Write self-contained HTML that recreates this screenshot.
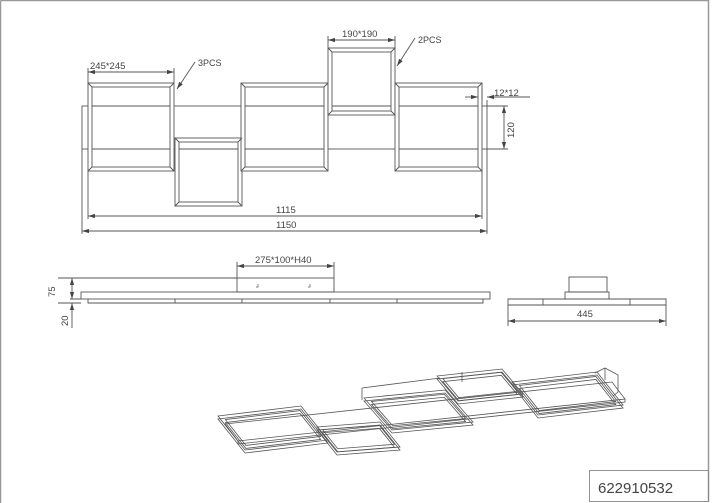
<!DOCTYPE html>
<html><head><meta charset="utf-8"><style>
html,body{margin:0;padding:0;background:#fff}
svg{display:block}
text{font-family:"Liberation Sans",sans-serif;fill:#444}
.f rect{vector-effect:non-scaling-stroke}
</style></head><body>
<svg width="720" height="503" viewBox="0 0 720 503" xmlns="http://www.w3.org/2000/svg">
<defs><marker id="a" viewBox="0 0 10 6" refX="10" refY="3" markerWidth="8" markerHeight="5" orient="auto-start-reverse"><path d="M0,0L10,3L0,6z" fill="#444"/></marker>
<g id="fr" class="f">
<rect x="0" y="0" width="1" height="1" fill="none" stroke="#555" stroke-width="0.8"/>
<rect x="0.05" y="0.12" width="0.9" height="0.76" fill="none" stroke="#555" stroke-width="0.8"/>
</g></defs>
<g fill="none" stroke="#555" stroke-width="0.9">
<path d="M0.5,0.5H708.5V501.5" stroke="#999" stroke-width="1.5"/>
<path d="M0.5,0.5V503" stroke="#999" stroke-width="1.5"/>
<rect x="589.5" y="470.5" width="119" height="31" stroke="#888"/>
<rect x="82" y="106" width="405" height="43" fill="#fff"/>
<g fill="#fff">
<rect x="88" y="83" width="86" height="88"/><rect x="92" y="87" width="78" height="80"/>
<rect x="175" y="138" width="67" height="68"/><rect x="179" y="142" width="59" height="60"/>
<rect x="241" y="83" width="87" height="88"/><rect x="245" y="87" width="79" height="80"/>
<rect x="328" y="48" width="67" height="67"/><rect x="332" y="52" width="59" height="59"/>
<rect x="395" y="83" width="87" height="88"/><rect x="399" y="87" width="79" height="80"/>
</g>
<path d="M88,83l4,4M174,83l-4,4M88,171l4,-4M174,171l-4,-4M175,138l4,4M242,138l-4,4M175,206l4,-4M242,206l-4,-4M241,83l4,4M328,83l-4,4M241,171l4,-4M328,171l-4,-4M328,48l4,4M395,48l-4,4M328,115l4,-4M395,115l-4,-4M395,83l4,4M482,83l-4,4M395,171l4,-4M482,171l-4,-4"/>
<path d="M92,106H170M92,149H170M245,106H324M245,149H324M332,106H391M399,106H478M399,149H478M179,149H238"/>
<path d="M88,72H174" marker-start="url(#a)" marker-end="url(#a)"/>
<path d="M88,68V83M174,68V83"/>
<path d="M195,62L177,89" marker-end="url(#a)"/>
<path d="M328,40H395" marker-start="url(#a)" marker-end="url(#a)"/>
<path d="M328,36V48M395,36V48"/>
<path d="M415,38L397,66" marker-end="url(#a)"/>
<path d="M465,97H478" marker-end="url(#a)"/><path d="M530,97H487" marker-end="url(#a)"/>
<path d="M482,88V100M487,100V106"/>
<path d="M504,106V149" marker-start="url(#a)" marker-end="url(#a)"/>
<path d="M487,106H508M487,149H508"/>
<path d="M88,216H482" marker-start="url(#a)" marker-end="url(#a)"/>
<path d="M82,231H487" marker-start="url(#a)" marker-end="url(#a)"/>
<path d="M88,171V219M482,171V219M82,149V234M487,149V234"/>
<rect x="237" y="278" width="97" height="14"/>
<rect x="81" y="292" width="409" height="7"/>
<path d="M88,299V303H483V299M175,299V303M242,299V303M330,299V303M397,299V303"/>
<path d="M237,266H334" marker-start="url(#a)" marker-end="url(#a)"/>
<path d="M237,262V278M334,262V278"/>
<path d="M258,284v3h-2M310,284v3h-2" stroke-width="0.7"/>
<path d="M58,278H237M58,303H81M70,299H81"/>
<path d="M72,278V299" marker-start="url(#a)" marker-end="url(#a)"/>
<path d="M72,310V303" marker-end="url(#a)"/><path d="M72,303V328"/>
<rect x="569" y="277" width="38" height="15"/>
<rect x="565" y="292" width="44" height="7"/>
<path d="M508,299H666V305H508ZM543,299V305M630,299V305"/>
<path d="M508,305V326M666,305V326"/>
<path d="M508,321H666" marker-start="url(#a)" marker-end="url(#a)"/>
<!-- iso -->
<g stroke-width="0.8">
<path d="M225,424L612,382L625,399L238,441Z"/>
<path d="M238,441L238,444L625,402L625,399"/>
<path d="M362,388L362,400M362,388L440,378"/>
<path d="M595,373L605,368L618,375L618,392L613,396"/>
<path d="M605,368L605,380"/>
<path d="M462,382L462,372"/>
</g>
</g>
<g>
<use href="#fr" transform="matrix(83,-10,27,34,218,416)"/>
<use href="#fr" transform="matrix(83,-10,27,34,218,419)"/>
<use href="#fr" transform="matrix(63,-5,20,25,317,427)"/>
<use href="#fr" transform="matrix(63,-5,20,25,317,430)"/>
<use href="#fr" transform="matrix(81,-8,28,32,364,398)"/>
<use href="#fr" transform="matrix(81,-8,28,32,364,401)"/>
<use href="#fr" transform="matrix(65,-7,21,25,437,376)"/>
<use href="#fr" transform="matrix(65,-7,21,25,437,379)"/>
<use href="#fr" transform="matrix(85,-10,26,33,512,382)"/>
<use href="#fr" transform="matrix(85,-10,26,33,512,385)"/>
</g>
<g font-size="10">
<text x="90" y="69" font-size="9.5">245*245</text>
<text x="198" y="66" font-size="9" font-family="Liberation Serif">3PCS</text>
<text x="342" y="37" font-size="9.5">190*190</text>
<text x="418" y="43" font-size="9" font-family="Liberation Serif">2PCS</text>
<text x="494" y="96" font-size="9.5">12*12</text>
<text transform="translate(514,138) rotate(-90)" font-size="9.5">120</text>
<text x="276" y="213" font-size="9.5">1115</text>
<text x="276" y="228" font-size="9.5">1150</text>
<text x="255" y="263" font-size="9.5">275*100*H40</text>
<text transform="translate(55,297) rotate(-90)" font-size="9.5">75</text>
<text transform="translate(68,326) rotate(-90)" font-size="9.5">20</text>
<text x="577" y="317" font-size="9.5">445</text>
<text x="598" y="493" font-size="15" fill="#222">622910532</text>
</g>
</svg>
</body></html>
